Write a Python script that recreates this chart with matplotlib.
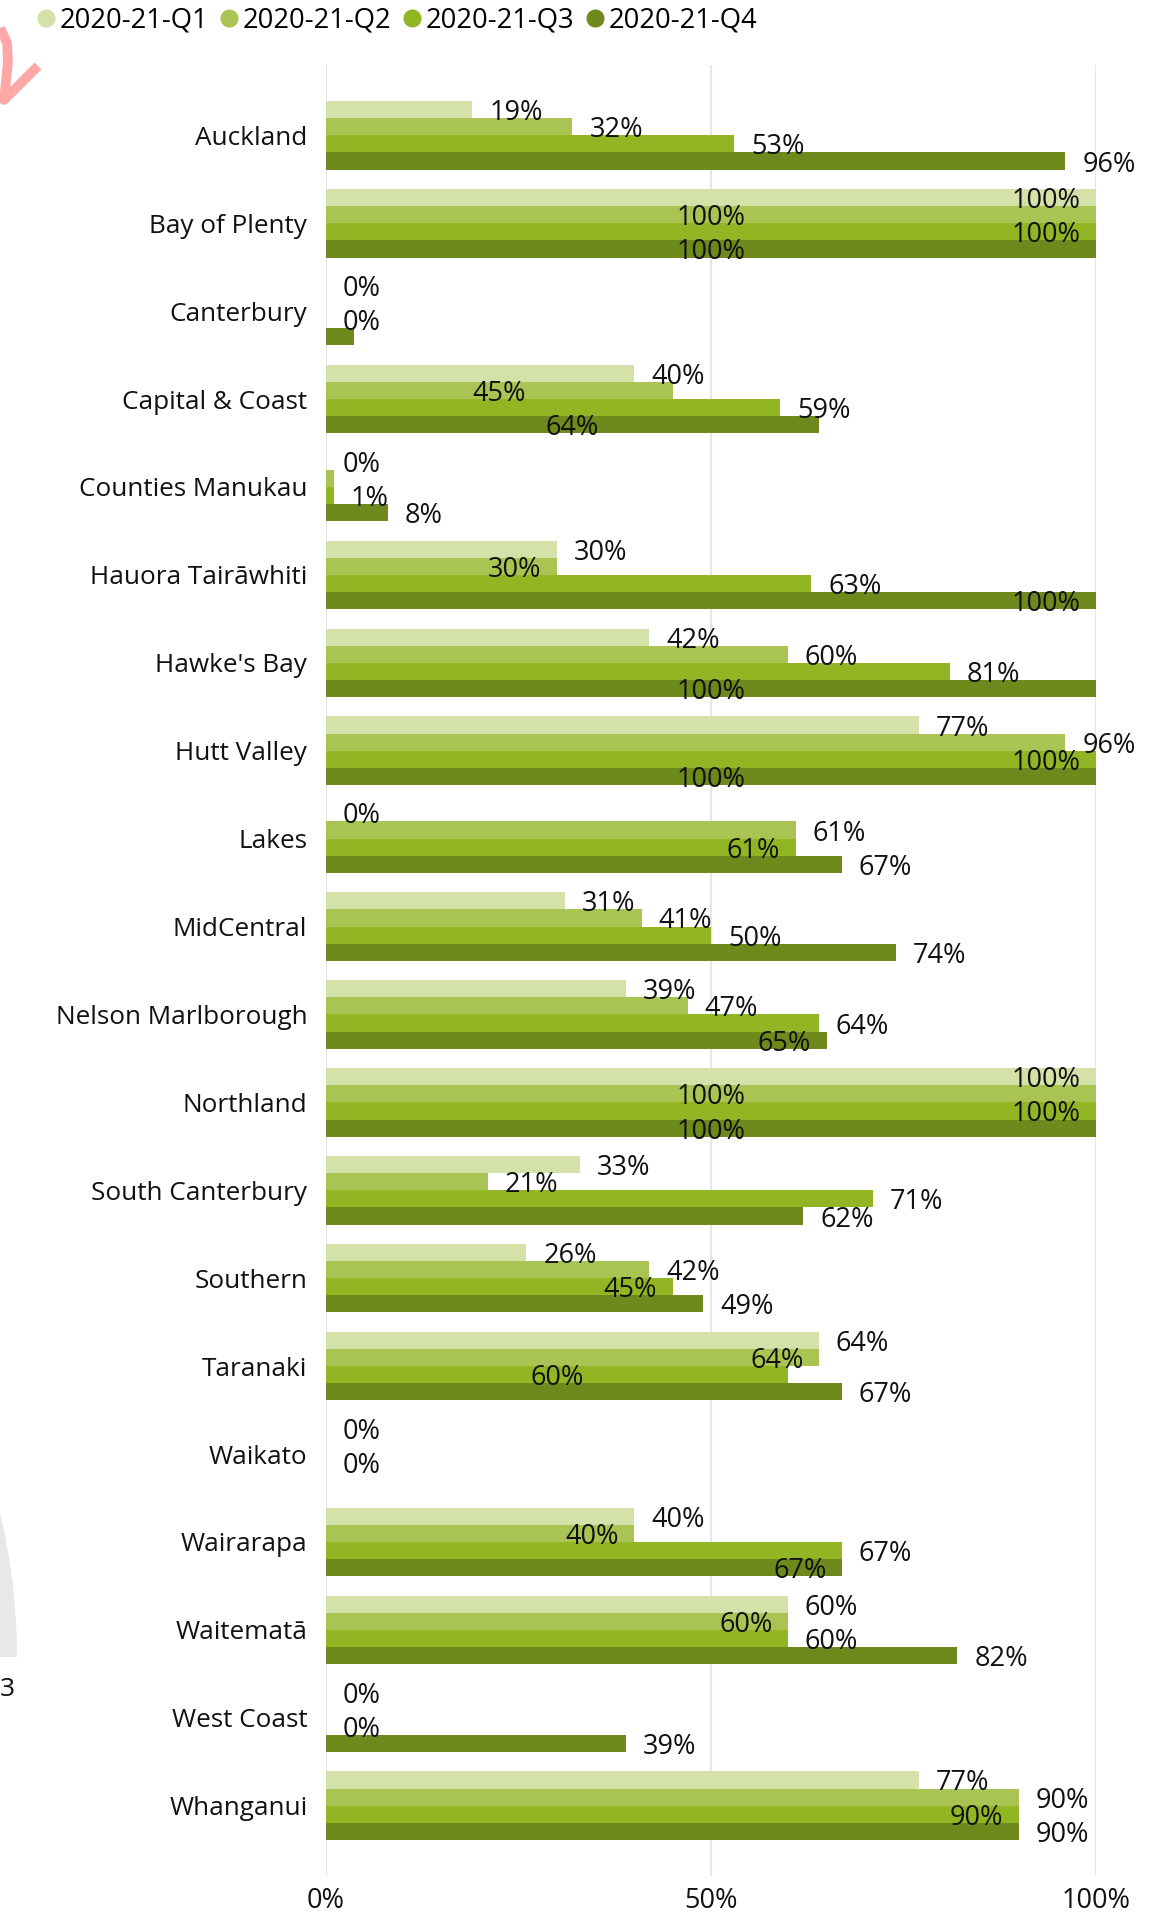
import numpy as np
import matplotlib
matplotlib.use('Agg')
from matplotlib import pyplot as plt
from matplotlib.lines import Line2D

plt.rcParams['font.family'] = ['Open Sans', 'DejaVu Sans']

# data
regions = ['Auckland', 'Bay of Plenty', 'Canterbury', 'Capital & Coast', 'Counties Manukau',
           'Hauora Tairāwhiti', "Hawke's Bay", 'Hutt Valley', 'Lakes', 'MidCentral',
           'Nelson Marlborough', 'Northland', 'South Canterbury', 'Southern', 'Taranaki',
           'Waikato', 'Wairarapa', 'Waitematā', 'West Coast', 'Whanganui']
quarters = ['2020-21-Q1', '2020-21-Q2', '2020-21-Q3', '2020-21-Q4']
nan = np.nan
q1 = [19, 100, 0, 40, 0, 30, 42, 77, 0, 31, 39, 100, 33, 26, 64, 0, 40, 60, 0, 77]
q2 = [32, 100, nan, 45, 1, 30, 60, 96, 61, 41, 47, 100, 21, 42, 64, nan, 40, 60, nan, 90]
q3 = [53, 100, 0, 59, 1, 63, 81, 100, 61, 50, 64, 100, 71, 45, 60, 0, 67, 60, 0, 90]
q4 = [96, 100, 3.6, 64, 8, 100, 100, 100, 67, 74, 65, 100, 62, 49, 67, nan, 67, 82, 39, 90]
# where the data label sits (out = past bar end, in = inside end, mid = centre, '' = hidden)
lab1 = ['out', 'in', 'out', 'out', 'out', 'out', 'out', 'out', 'out', 'out', 'out', 'in', 'out', 'out', 'out', 'out', 'out', 'out', 'out', 'out']
lab2 = ['out', 'mid', '', 'mid', '', 'in', 'out', 'out', 'out', 'out', 'out', 'mid', 'out', 'out', 'in', '', 'in', 'in', '', 'out']
lab3 = ['out', 'in', 'out', 'out', 'out', 'out', 'out', 'in', 'in', 'out', 'out', 'in', 'out', 'in', 'mid', 'out', 'out', 'out', 'out', 'in']
lab4 = ['out', 'mid', '', 'mid', 'out', 'in', 'mid', 'mid', 'out', 'out', 'in', 'mid', 'out', 'out', 'out', '', 'in', 'out', 'out', 'out']

colors = ['#D4E1A8', '#A9C452', '#92B524', '#6E891C']
series = [q1, q2, q3, q4]
labmodes = [lab1, lab2, lab3, lab4]

W, H = 1170, 1918
fig = plt.figure(figsize=(W/100, H/100), dpi=100)
ax = fig.add_axes([326/W, 42/H, (1096-326)/W, (1876-65)/H])

y = np.arange(len(regions))
bh = 0.195
fs = 19.5
for i, (vals, c, modes) in enumerate(zip(series, colors, labmodes)):
    yy = y + (i - 1.5)*bh
    v = np.array(vals, dtype=float)
    ok = ~np.isnan(v)
    ax.barh(yy[ok], v[ok], height=bh, color=c, zorder=2)
    for j in range(len(regions)):
        m = modes[j]
        if not m or np.isnan(v[j]):
            continue
        txt = '%d%%' % round(v[j])
        if m == 'out':
            x, ha = v[j] + 2.2, 'left'
        elif m == 'in':
            x, ha = v[j] - 2.0, 'right'
        else:
            x, ha = v[j]/2, 'center'
        ax.text(x, yy[j] + 0.04, txt, ha=ha, va='center', fontsize=fs,
                color='#111111', zorder=3, clip_on=False)

ax.set_xlim(0, 100)
ax.set_ylim(len(regions) - 0.2, -0.8)
ax.set_xticks([0, 50, 100])
ax.set_xticklabels(['0%', '50%', '100%'], fontsize=fs, color='#111111')
ax.set_yticks(y)
ax.set_yticklabels(regions, fontsize=18.8, color='#111111')
ax.tick_params(axis='y', length=0, pad=13.5)
ax.tick_params(axis='x', length=0, pad=8)
ax.grid(axis='x', color='#E6E6E6', linewidth=1.5, zorder=0)
ax.set_axisbelow(True)
for s in ax.spines.values():
    s.set_visible(False)

# legend
handles = [Line2D([], [], marker='o', linestyle='none', markersize=12,
                  markerfacecolor=c, markeredgecolor=c) for c in colors]
fig.legend(handles, quarters, loc='center left', bbox_to_anchor=(38/W, 1 - 21/H),
           ncol=4, frameon=False, fontsize=19.7, handlelength=0.6, handletextpad=0.2,
           columnspacing=0.45, borderpad=0, borderaxespad=0)

# bits of the neighbouring visuals that are cut off at the left edge
deco = fig.add_axes([0, 0, 1, 1], zorder=-1)
deco.set_xlim(0, W)
deco.set_ylim(H, 0)
deco.axis('off')
deco.plot([0, 7, 8, 4, 38], [28, 43, 62, 100, 66], color='#FFA7A7', linewidth=7,
          solid_capstyle='butt', solid_joinstyle='round')
ya = np.linspace(1513, 1657, 60)
xa = -601 + np.sqrt(618**2 - (ya - 1657)**2)
deco.fill(np.r_[0, xa, 0], np.r_[1513, ya, 1657], color='#E8E8E8', lw=0)
deco.text(0, 1689, '3', fontsize=19, va='center', ha='left', color='#111111')

fig.savefig('out.png', dpi=100)
